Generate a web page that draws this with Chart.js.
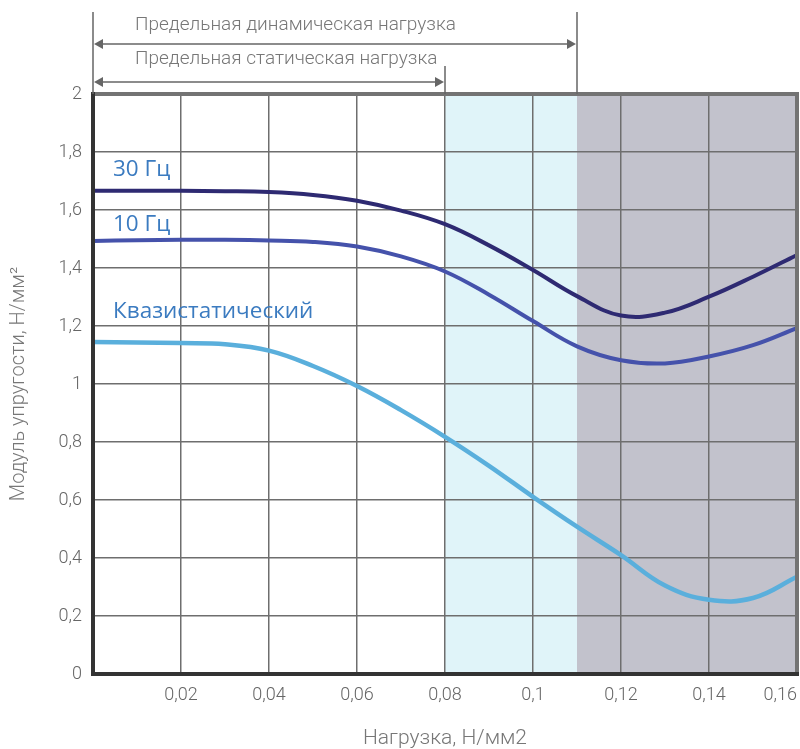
<!DOCTYPE html>
<html>
<head>
<meta charset="utf-8">
<script src="https://cdn.jsdelivr.net/npm/chart.js@4.4.0/dist/chart.umd.min.js"></script>
<style>
  body { margin: 0; background: #fff; }
  #wrap { width: 800px; height: 749px; }
</style>
</head>
<body>
<div id="wrap"><canvas id="myChart"></canvas></div>
<script>
// нагрузка, Н/мм2
var loads = [0, 0.01, 0.02, 0.03, 0.04, 0.05, 0.06, 0.07, 0.08, 0.09, 0.1, 0.11, 0.12, 0.13, 0.14, 0.15, 0.16];
var hz30 = [1.666, 1.666, 1.666, 1.665, 1.662, 1.652, 1.632, 1.598, 1.551, 1.478, 1.393, 1.303, 1.236, 1.246, 1.301, 1.370, 1.445];
var hz10 = [1.493, 1.496, 1.497, 1.497, 1.495, 1.490, 1.474, 1.440, 1.388, 1.308, 1.217, 1.130, 1.082, 1.071, 1.095, 1.134, 1.193];
var quasi = [1.145, 1.143, 1.141, 1.137, 1.115, 1.062, 0.993, 0.910, 0.818, 0.718, 0.611, 0.508, 0.410, 0.305, 0.256, 0.262, 0.335];

var seriesNames = ["30 Гц", "10 Гц", "Квазистатический"];
var seriesLabelY = [1.74, 1.55, 1.25];

var staticLimit = 0.08;
var dynamicLimit = 0.11;

var topNotes = ["Предельная динамическая нагрузка", "Предельная статическая нагрузка"];
var xTitle = "Нагрузка, Н/мм2";
var yTitle = "Модуль упругости, Н/мм²";

function points(ys) {
    return loads.map(function(x, i) {
        return { x: x, y: ys[i] };
    });
}

function comma(v) {
    return String(Math.round(v * 100) / 100).replace(".", ",");
}

var labelFont = "22.5px 'Open Sans'";

function arrowLine(ctx, x1, x2, y) {
    ctx.beginPath();
    ctx.moveTo(x1 + 6, y);
    ctx.lineTo(x2 - 6, y);
    ctx.stroke();
    ctx.beginPath();
    ctx.moveTo(x1, y); ctx.lineTo(x1 + 9, y - 5); ctx.lineTo(x1 + 9, y + 5); ctx.closePath();
    ctx.fill();
    ctx.beginPath();
    ctx.moveTo(x2, y); ctx.lineTo(x2 - 9, y - 5); ctx.lineTo(x2 - 9, y + 5); ctx.closePath();
    ctx.fill();
}

var decor = {
    id: "decor",
    beforeDraw: function(chart) {
        var ctx = chart.ctx, a = chart.chartArea, x = chart.scales.x;
        var xs = x.getPixelForValue(staticLimit);
        var xd = x.getPixelForValue(dynamicLimit);
        ctx.save();
        ctx.fillStyle = "#e0f4f9";
        ctx.fillRect(xs, a.top, xd - xs, a.bottom - a.top);
        ctx.fillStyle = "#c2c2cc";
        ctx.fillRect(xd, a.top, a.right - xd, a.bottom - a.top);
        ctx.restore();
    },
    afterDraw: function(chart) {
        var ctx = chart.ctx, a = chart.chartArea, x = chart.scales.x, y = chart.scales.y;
        var x0 = x.getPixelForValue(0);
        var xs = x.getPixelForValue(staticLimit);
        var xd = x.getPixelForValue(dynamicLimit);
        ctx.save();
        // рамка
        ctx.lineWidth = 4;
        ctx.strokeStyle = "#737373";
        ctx.beginPath();
        ctx.moveTo(a.left, a.top); ctx.lineTo(a.right, a.top); ctx.lineTo(a.right, a.bottom);
        ctx.stroke();
        ctx.strokeStyle = "#333";
        ctx.beginPath();
        ctx.moveTo(a.left, a.top - 2); ctx.lineTo(a.left, a.bottom); ctx.lineTo(a.right + 2, a.bottom);
        ctx.stroke();

        // пределы нагрузки сверху
        ctx.strokeStyle = "#666";
        ctx.fillStyle = "#666";
        ctx.lineWidth = 1.5;
        ctx.beginPath();
        ctx.moveTo(x0, 12); ctx.lineTo(x0, a.top);
        ctx.moveTo(xd, 12); ctx.lineTo(xd, a.top);
        ctx.moveTo(xs, 66); ctx.lineTo(xs, a.top);
        ctx.stroke();
        arrowLine(ctx, x0 + 1, xd - 1, 44);
        arrowLine(ctx, x0 + 1, xs - 1, 82);

        ctx.fillStyle = "#777";
        ctx.font = "300 19px Roboto";
        ctx.textBaseline = "middle";
        ctx.textAlign = "left";
        ctx.fillText(topNotes[0], 135, 25);
        ctx.fillText(topNotes[1], 135, 59);

        // подписи кривых
        ctx.fillStyle = "#3b7bc0";
        ctx.font = labelFont;
        seriesNames.forEach(function(name, i) {
            ctx.fillText(name, a.left + 20, y.getPixelForValue(seriesLabelY[i]));
        });
        ctx.restore();
    }
};

var config = {
    type: "line",
    data: {
        datasets: [{
            label: seriesNames[0],
            data: points(hz30),
            borderColor: "#2e2a72",
            borderWidth: 4
        }, {
            label: seriesNames[1],
            data: points(hz10),
            borderColor: "#4552ab",
            borderWidth: 4
        }, {
            label: seriesNames[2],
            data: points(quasi),
            borderColor: "#5aafdc",
            borderWidth: 4.5
        }]
    },
    options: {
        responsive: true,
        maintainAspectRatio: false,
        animation: false,
        layout: { padding: { top: 94, right: 3, left: 0, bottom: 0 } },
        elements: {
            point: { radius: 0 },
            line: { tension: 0.4, borderCapStyle: "round" }
        },
        plugins: {
            legend: { display: false },
            tooltip: { enabled: false }
        },
        scales: {
            x: {
                type: "linear",
                min: 0,
                max: 0.16,
                afterFit: function(s) { s.height = 75; },
                grid: { color: "#6e6e6e", lineWidth: 1.5, drawTicks: true, tickLength: 11, tickColor: "rgba(0,0,0,0)" },
                border: { display: false },
                ticks: {
                    stepSize: 0.02,
                    align: "inner",
                    padding: 0,
                    color: "#666",
                    font: { family: "Roboto", weight: 300, size: 18 },
                    callback: function(v) { return v === 0 ? "" : comma(v); }
                },
                title: {
                    display: true,
                    text: xTitle,
                    color: "#777",
                    padding: { top: 0, bottom: 0 },
                    font: { family: "Roboto", weight: 300, size: 21, lineHeight: 1 }
                }
            },
            y: {
                min: 0,
                max: 2,
                afterFit: function(s) { s.width = 93; },
                grid: { color: "#6e6e6e", lineWidth: 1.5, drawTicks: false },
                border: { display: false },
                ticks: {
                    stepSize: 0.2,
                    padding: 11,
                    color: "#666",
                    font: { family: "Roboto", weight: 300, size: 18 },
                    callback: function(v) { return comma(v); }
                },
                title: {
                    display: true,
                    text: yTitle,
                    color: "#777",
                    padding: { top: 7, bottom: 0 },
                    font: { family: "Roboto", weight: 300, size: 20 }
                }
            }
        }
    },
    plugins: [decor]
};

new Chart(document.getElementById("myChart").getContext("2d"), config);
</script>
</body>
</html>
